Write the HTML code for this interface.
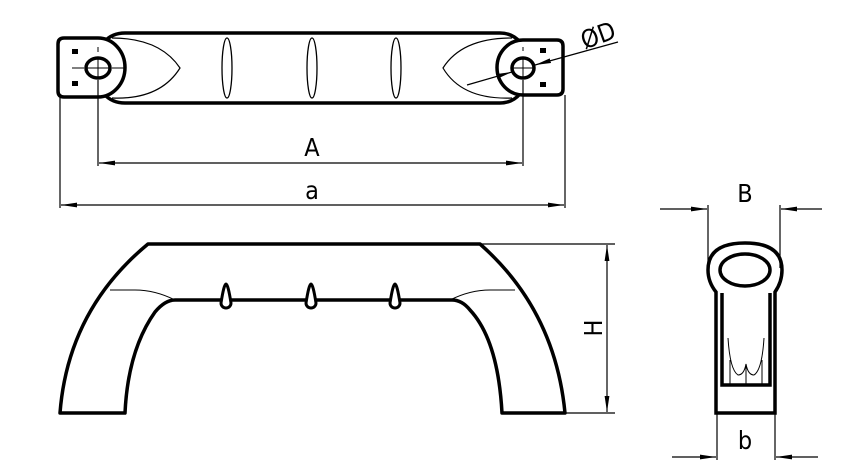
<!DOCTYPE html>
<html><head><style>body{margin:0;background:#fff}svg{display:block}</style></head><body>
<svg width="850" height="472" viewBox="0 0 850 472" xmlns="http://www.w3.org/2000/svg" font-family="DejaVu Sans Condensed, Liberation Sans, sans-serif">
<defs>
<marker id="ar" viewBox="0 0 16 6" refX="16" refY="3" markerWidth="16" markerHeight="6" orient="auto" markerUnits="userSpaceOnUse"><path d="M0,0.6 L16,3 L0,5.4z" fill="#000"/></marker>
</defs>
<!-- top view body -->
<g fill="none" stroke="#000">
<path d="M104,42 Q112,33 125,33 L500,33 Q512,33 520,42 M104,94 Q112,103 125,103 L500,103 Q512,103 520,94" stroke-width="3.5"/>
<path d="M112,38 Q160,38 180,68 Q160,100 112,98" stroke-width="1.2"/>
<path d="M512,38 Q462,38 443,68 Q462,100 512,98" stroke-width="1.2"/>
<ellipse cx="227" cy="68" rx="5" ry="30" stroke-width="1.3"/>
<ellipse cx="312" cy="68" rx="5" ry="30" stroke-width="1.3"/>
<ellipse cx="396" cy="68" rx="5" ry="30" stroke-width="1.3"/>
<path d="M98,38 H64 Q58,38 58,44 V91 Q58,97 64,97 H98 A27,29.5 0 0 0 98,38 Z" stroke-width="3.5" fill="#fff" stroke-linejoin="round"/>
<path d="M523,40 H557 Q563,40 563,46 V89 Q563,95 557,95 H523 A26,27.5 0 0 1 523,40 Z" stroke-width="3.5" fill="#fff" stroke-linejoin="round"/>
<ellipse cx="98" cy="68" rx="12" ry="10" stroke-width="3.5"/>
<ellipse cx="523" cy="68" rx="11" ry="10" stroke-width="3.5"/>
<path d="M98,57 V79 M87,68 H109 M72,68 H84 M112,68 H124 M98,47 V52 M98,84 V89 M512,68 H534 M523,57 V79 M523,47 V51 M523,85 V89" stroke-width="1"/>
</g>
<g fill="#000">
<rect x="72" y="49" width="6" height="5"/><rect x="72" y="81" width="6" height="5"/>
<rect x="540" y="48" width="6" height="5"/><rect x="540" y="82" width="6" height="5"/>
</g>
<g stroke="#000" stroke-width="1.2" fill="none">
<path d="M98,80 V166 M523,80 V166 M60,97 V208 M565,95 V208"/>
<path d="M312,163 L99,163" marker-end="url(#ar)"/><path d="M312,163 L522,163" marker-end="url(#ar)"/>
<path d="M312,205 L61,205" marker-end="url(#ar)"/><path d="M312,205 L564,205" marker-end="url(#ar)"/>
<path d="M467,85 L512,72" marker-end="url(#ar)"/><path d="M618,42 L535,65" marker-end="url(#ar)"/>
</g>
<g font-size="25" text-anchor="middle" fill="#000">
<text x="312" y="156">A</text><text x="312" y="199">a</text>
<text x="598" y="44" transform="rotate(-20 598 35)">ØD</text>
<text x="745" y="202">B</text><text x="745" y="449">b</text>
<text x="595" y="328" transform="rotate(-90 595 328)" dominant-baseline="middle">H</text>
</g>
<!-- front view -->
<g fill="none" stroke="#000" stroke-width="3.5" stroke-linejoin="round">
<path d="M148,244 L480,244 Q555,310 565,413 L502,413 Q498,340 470,310 Q462,300 452,300 L175,300 Q165,300 155,312 Q128,350 125,413 L60,413 Q68,310 148,244Z"/>
</g>
<g stroke="#000" stroke-width="1" fill="none">
<path d="M110,290 L135,290 Q155,290 175,300 M515,290 L490,290 Q470,290 450,300"/>
</g>
<g stroke="#000" stroke-width="3" fill="#fff">
<path d="M221,303 Q224,284 226,284 Q228,284 231,303 A5,5 0 0 1 221,303Z"/>
<path d="M306,303 Q309,284 311,284 Q313,284 316,303 A5,5 0 0 1 306,303Z"/>
<path d="M390,303 Q393,284 395,284 Q397,284 400,303 A5,5 0 0 1 390,303Z"/>
</g>
<g stroke="#000" stroke-width="1.2" fill="none">
<path d="M480,244 H615 M565,413 H615"/>
<path d="M607,328 L607,245" marker-end="url(#ar)"/><path d="M607,328 L607,412" marker-end="url(#ar)"/>
</g>
<!-- side view -->
<g fill="none" stroke="#000" stroke-width="3.5">
<path d="M716,292 Q708,282 708,270 Q708,243 745,243 Q782,243 782,270 Q782,282 775,292 L775,413 L716,413 Z"/>
<ellipse cx="745" cy="270" rx="25" ry="16"/>
<path d="M722,293 V385 H770 V293"/>
</g>
<g stroke="#000" stroke-width="1" fill="none">
<path d="M728,338 Q730,370 738,375 Q744,375 746,364 Q748,375 754,375 Q762,370 764,338 M746,364 V384 M730,360 V384 M762,360 V384"/>
</g>
<g stroke="#000" stroke-width="1.2" fill="none">
<path d="M708,205 V268 M780,205 V268 M717,413 V460 M775,413 V460"/>
<path d="M660,209 L707,209" marker-end="url(#ar)"/><path d="M822,209 L781,209" marker-end="url(#ar)"/>
<path d="M672,457 L716,457" marker-end="url(#ar)"/><path d="M818,457 L776,457" marker-end="url(#ar)"/>
</g>
</svg>
</body></html>
